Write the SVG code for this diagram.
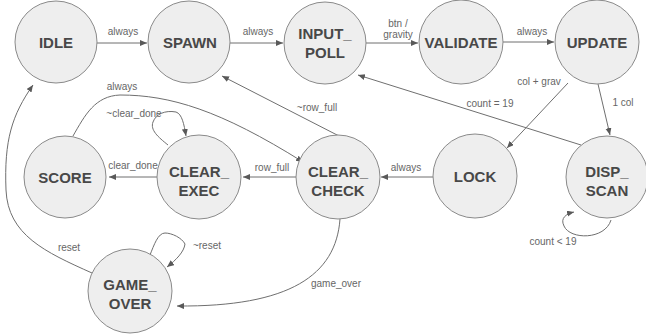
<svg xmlns="http://www.w3.org/2000/svg" width="646" height="334" viewBox="0 0 646 334">
<defs>
<marker id="ah" markerUnits="userSpaceOnUse" markerWidth="9" markerHeight="7" refX="7" refY="3" orient="auto">
<path d="M0,0 L7,3 L0,6 z" fill="#595959"/>
</marker>
<style>
.n circle{fill:#eeeeee;stroke:#8a8a8a;stroke-width:1}
.n text{font-family:"Liberation Sans",Arial,sans-serif;font-size:15px;font-weight:bold;fill:#484848;text-anchor:middle}
.e path{fill:none;stroke:#6f6f6f;stroke-width:1;marker-end:url(#ah)}
.e text{font-family:"Liberation Sans",Arial,sans-serif;font-size:10px;fill:#666666;text-anchor:middle}
</style>
</defs>
<rect width="646" height="334" fill="#ffffff"/>
<g id="connectors" class="e">
<path d="M97,43 L147,43"/><text x="123" y="35">always</text>
<path d="M230,43 L283,43"/><text x="258" y="35">always</text>
<path d="M366,43 L418,43"/><text x="398" y="27">btn /</text><text x="398" y="38">gravity</text>
<path d="M503,42 L554,42"/><text x="532" y="35">always</text>
<path d="M568,83 L507,148"/><text x="539" y="85">col + grav</text>
<path d="M598,84 L610,135"/><text x="623" y="106">1 col</text>
<path d="M581,145 L358,75"/><text x="490" y="107">count = 19</text>
<path d="M611,220 C605,240 570,240 564,226 C560,218 566,214 574,212"/><text x="553" y="245">count &lt; 19</text>
<path d="M433,177 L381,177"/><text x="406" y="171">always</text>
<path d="M296,177 L243,177"/><text x="272" y="171">row_full</text>
<path d="M157,177 L109,177"/><text x="133" y="169">clear_done</text>
<path d="M168,145 C158,137 150,130 153,122 C156,114 165,110 176,112 C182,114 184,124 186,136"/><text x="134" y="117">~clear_done</text>
<path d="M73,136 C85,115 95,96 120,95 C170,95 220,110 303,162"/><text x="122" y="90">always</text>
<path d="M341,137 L222,76"/><text x="317" y="111">~row_full</text>
<path d="M340,219 C336,275 290,307 177,306"/><text x="336" y="287">game_over</text>
<path d="M150,255 C154,245 158,233 165,233 C172,233 182,238 185,244 C184,252 176,260 167,267"/><text x="207" y="249">~reset</text>
<path d="M92,273 C45,252 8,235 6,190 C4,140 12,115 33,85"/><text x="69" y="251">reset</text>
</g>
<g id="IDLE" class="n"><circle cx="56" cy="42" r="41"/><text x="56" y="48">IDLE</text></g>
<g id="SPAWN" class="n"><circle cx="189" cy="42" r="41"/><text x="190" y="48">SPAWN</text></g>
<g id="INPUT_POLL" class="n"><circle cx="325" cy="43" r="41"/><text x="325" y="39">INPUT_</text><text x="325" y="58">POLL</text></g>
<g id="VALIDATE" class="n"><circle cx="461" cy="42" r="42"/><text x="461" y="48">VALIDATE</text></g>
<g id="UPDATE" class="n"><circle cx="597" cy="42" r="42"/><text x="597" y="48">UPDATE</text></g>
<g id="SCORE" class="n"><circle cx="65" cy="177" r="41"/><text x="65" y="183">SCORE</text></g>
<g id="CLEAR_EXEC" class="n"><circle cx="199" cy="177" r="42"/><text x="199" y="177">CLEAR_</text><text x="199" y="196">EXEC</text></g>
<g id="CLEAR_CHECK" class="n"><circle cx="338" cy="177" r="42"/><text x="338" y="177">CLEAR_</text><text x="338" y="196">CHECK</text></g>
<g id="LOCK" class="n"><circle cx="475" cy="176" r="42"/><text x="475" y="182">LOCK</text></g>
<g id="DISP_SCAN" class="n"><circle cx="607" cy="177" r="41"/><text x="607" y="177">DISP_</text><text x="607" y="196">SCAN</text></g>
<g id="GAME_OVER" class="n"><circle cx="130" cy="291" r="42"/><text x="130" y="290">GAME_</text><text x="130" y="309">OVER</text></g>
</svg>
